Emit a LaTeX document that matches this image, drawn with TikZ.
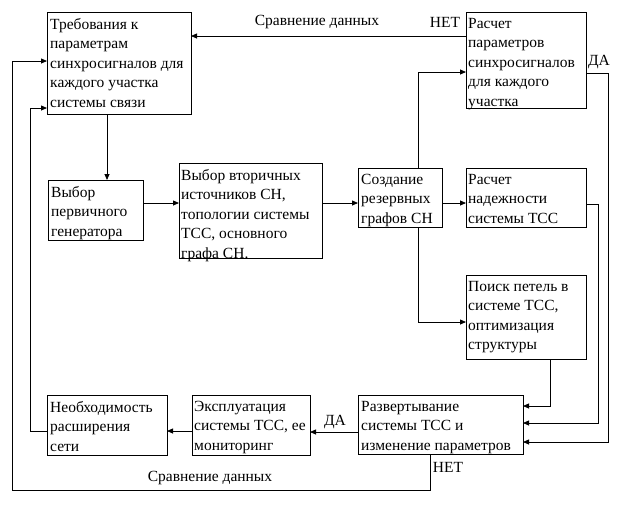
\documentclass[tikz,border=0pt]{standalone}
\usepackage{fontspec}
\setmainfont{Liberation Serif}
\newfontfamily\tnr{Liberation Serif}
\usetikzlibrary{calc,arrows.meta}
\begin{document}
\begin{tikzpicture}[x=1pt,y=-1pt,
  box/.style={draw, rectangle, anchor=north west, inner sep=0pt, outer sep=0pt, line width=0.8pt},
  txt/.style={anchor=north west, align=left, inner sep=0pt, font=\tnr\fontsize{15.5}{19.5}\selectfont},
  lbl/.style={inner sep=0pt, font=\tnr\fontsize{15.5}{19.5}\selectfont},
  arr/.style={-{Triangle[length=6pt,width=5pt]}, line width=0.8pt}]
\useasboundingbox (0,0) rectangle (624,504);
% boxes
\node[box, minimum width=144pt, minimum height=102pt] (b1) at (47,12) {};
\node[box, minimum width=120pt, minimum height=96pt] (b2) at (466,12) {};
\node[box, minimum width=95pt, minimum height=60pt] (b3) at (48,180) {};
\node[box, minimum width=143pt, minimum height=95pt] (b4) at (179,163) {};
\node[box, minimum width=84pt, minimum height=59pt] (b5) at (358,168) {};
\node[box, minimum width=120pt, minimum height=59pt] (b6) at (466,168) {};
\node[box, minimum width=120pt, minimum height=84pt] (b7) at (466,275) {};
\node[box, minimum width=165pt, minimum height=59pt] (b8) at (358,395) {};
\node[box, minimum width=118pt, minimum height=60pt] (b9) at (192,395) {};
\node[box, minimum width=120pt, minimum height=60pt] (b10) at (47,395) {};
% texts
\node[txt] (t1) at ($(b1.north west)+(3,6)$) {Требования к\\параметрам\\синхросигналов для\\каждого участка\\системы связи};
\node[txt] (t2) at ($(b2.north west)+(2,6)$) {Расчет\\параметров\\синхросигналов\\для каждого\\участка};
\node[txt] (t3) at ($(b3.north west)+(3,6)$) {Выбор\\первичного\\генератора};
\node[txt] (t4) at ($(b4.north west)+(2,6)$) {Выбор вторичных\\источников СН,\\топологии системы\\ТСС, основного\\графа СН.};
\node[txt] (t5) at ($(b5.north west)+(3,6)$) {Создание\\резервных\\графов СН};
\node[txt] (t6) at ($(b6.north west)+(2,6)$) {Расчет\\надежности\\системы ТСС};
\node[txt] (t7) at ($(b7.north west)+(2,6)$) {Поиск петель в\\системе ТСС,\\оптимизация\\структуры};
\node[txt] (t8) at ($(b8.north west)+(3,6)$) {Развертывание\\системы ТСС и\\изменение параметров};
\node[txt] (t9) at ($(b9.north west)+(2,6)$) {Эксплуатация\\системы ТСС, ее\\мониторинг};
\node[txt] (t10) at ($(b10.north west)+(3,6)$) {Необходимость\\расширения\\сети};
% labels
\node[lbl] (l1) at (317,22) {Сравнение данных};
\node[lbl] (l2) at (445,22) {НЕТ};
\node[lbl] (l3) at (599,62) {ДА};
\node[lbl] (l4) at (335,422) {ДА};
\node[lbl] (l5) at (448,467) {НЕТ};
\node[lbl] (l6) at (210,478) {Сравнение данных};
% connectors
\draw[arr] ($(b2.north west)+(0,24)$) -- ($(b1.north east)+(0,24)$);
\draw[arr] ($(b1.south west)+(60,0)$) -- ($(b3.north west)+(59,0)$);
\draw[arr] ($(b3.north east)+(0,23)$) -- ($(b4.north west)+(0,40)$);
\draw[arr] ($(b4.north east)+(0,40)$) -- ($(b5.north west)+(0,35)$);
\draw[arr] ($(b5.north east)+(0,35)$) -- ($(b6.north west)+(0,35)$);
\draw[arr] ($(b5.north west)+(60,0)$) |- ($(b2.north west)+(0,60)$);
\draw[arr] ($(b5.south west)+(60,0)$) |- ($(b7.north west)+(0,47)$);
\draw[arr] ($(b2.north east)+(0,61)$) -- ++(22,0) |- ($(b8.north east)+(0,47)$);
\draw[arr] ($(b6.north east)+(0,36)$) -- ++(12,0) |- ($(b8.north east)+(0,28)$);
\draw[arr] ($(b7.south west)+(84,0)$) |- ($(b8.north east)+(0,11)$);
\draw[arr] ($(b8.north west)+(0,37)$) -- ($(b9.north east)+(0,37)$);
\draw[arr] ($(b9.north west)+(0,36)$) -- ($(b10.north east)+(0,36)$);
\draw[arr] ($(b10.north west)+(0,36)$) -- ++(-17,0) |- ($(b1.north west)+(0,96)$);
\draw[arr] ($(b8.south west)+(72,0)$) -- ++(0,36) -| (12,61) -- ($(b1.north west)+(0,49)$);
\end{tikzpicture}
\end{document}
